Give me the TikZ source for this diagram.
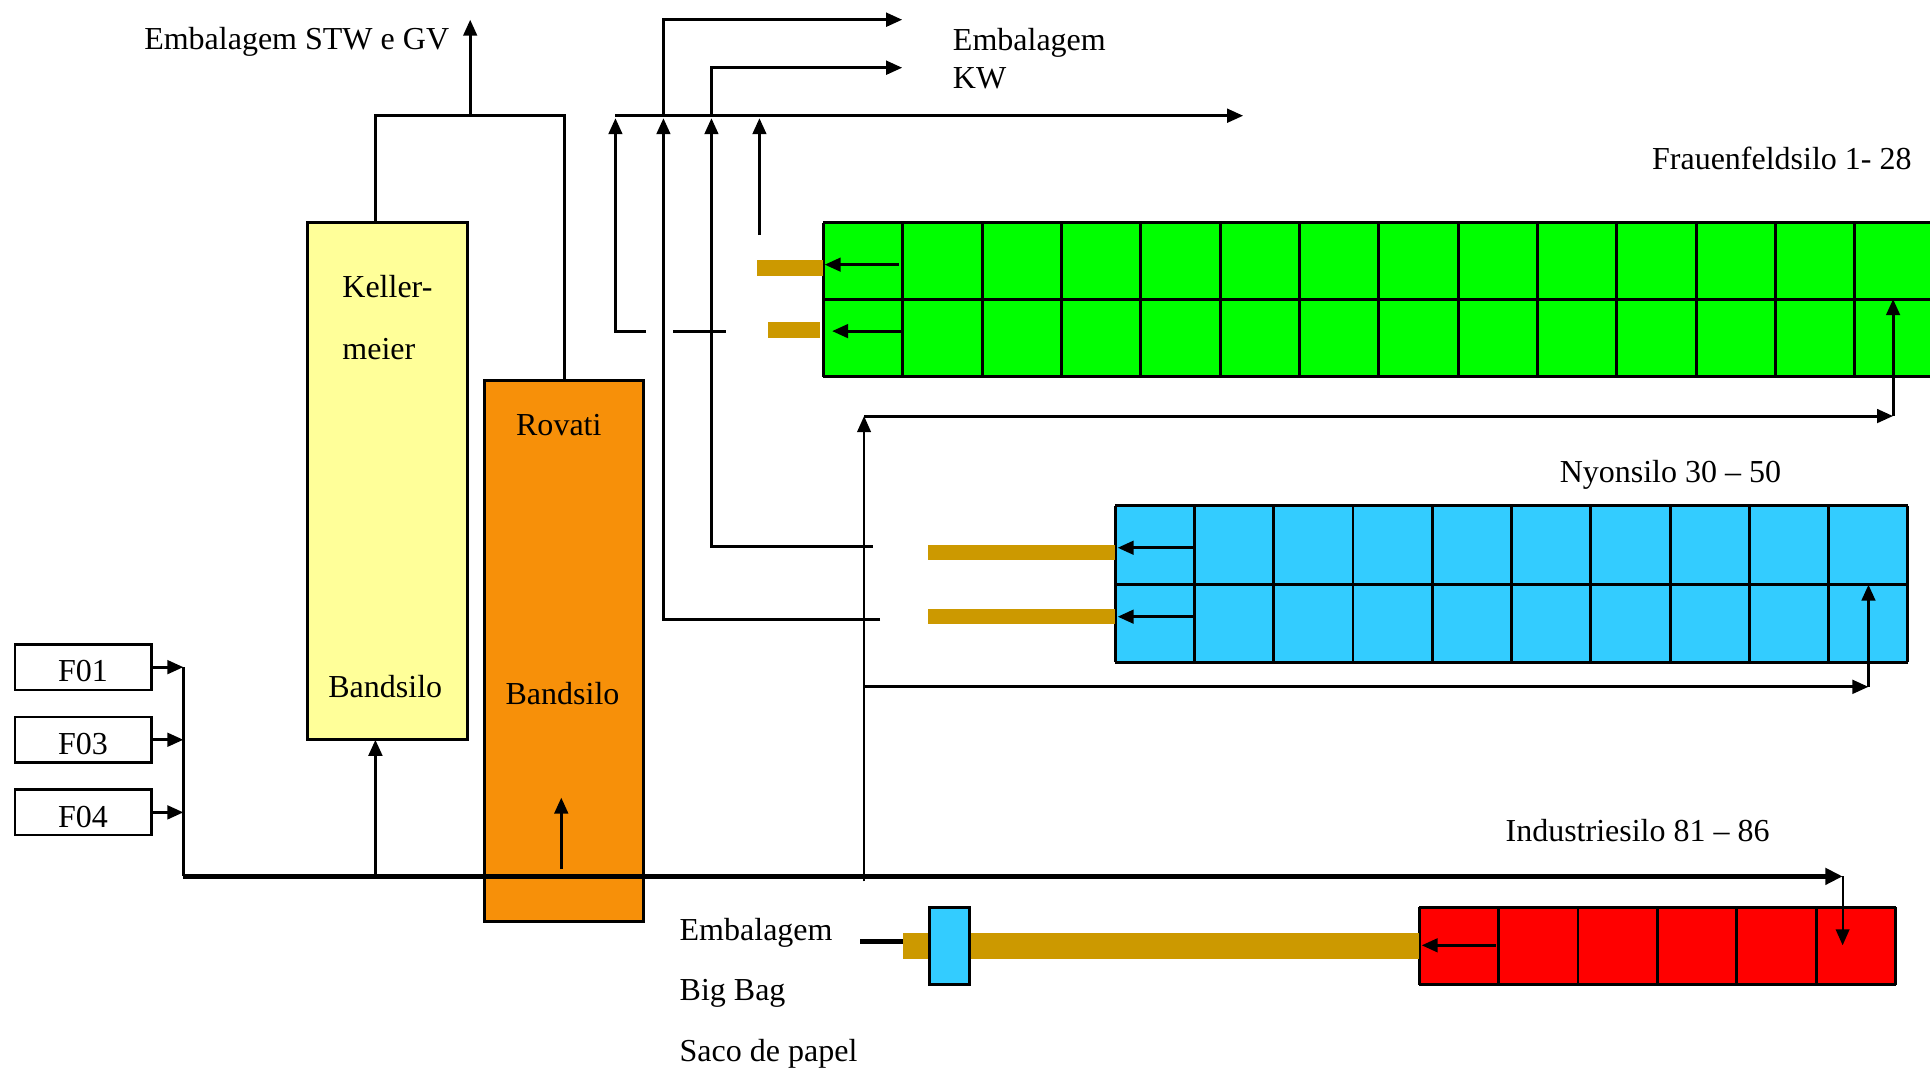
\documentclass[tikz,border=0pt]{standalone}
\usepackage{fontspec}
\setmainfont{Liberation Serif}
\usetikzlibrary{arrows.meta}
\definecolor{goldc}{HTML}{CC9900}
\definecolor{kyellow}{HTML}{FFFF99}
\definecolor{rorange}{HTML}{F79009}
\definecolor{nblue}{HTML}{33CCFF}
\definecolor{fgreen}{HTML}{00FF00}
\definecolor{ired}{HTML}{FF0000}
\begin{document}
\begin{tikzpicture}[x=1pt,y=-1pt,line width=2.4pt,
  >={Triangle[length=13pt,width=11pt]},
  lbl/.style={font=\fontsize{26}{31}\selectfont,inner sep=0pt,anchor=base west},
  clbl/.style={font=\fontsize{26}{31}\selectfont,inner sep=0pt,anchor=base},
  box/.style={draw,line width=2.4pt},
  bar/.style={fill=goldc,draw=none}]
\useasboundingbox (0,0) rectangle (1568,868);

% ---- Kellermeier and Rovati
\draw[box,fill=kyellow] (250,181) rectangle (380,601);
\coordinate (kt) at (305,181);
\coordinate (kb) at (305,601);
\node[lbl] (k1) at (277,242) {Keller-};
\node[lbl] (k2) at (277,292) {meier};
\node[clbl] (k3) at (313,567) {Bandsilo};
\draw[box,fill=rorange] (394,309) rectangle (523,749);
\coordinate (rt) at (459,309);
\node[clbl] (r1) at (454,354) {Rovati};
\node[clbl] (r2) at (457,572) {Bandsilo};
\draw[->] (456,706) -- (456,648);

% ---- top left outlet
\coordinate (stw) at (382,16);
\draw (kt) -- (305,94) -- (459,94) -- (rt);
\draw[->] (382,94) -- (stw);
\node[lbl] (stwl) at (116,40) {Embalagem STW e GV};

% ---- F boxes
\foreach \n/\y in {F01/542,F03/601,F04/660}{
  \node[draw,line width=2pt,minimum width=111pt,minimum height=37pt,inner sep=0pt] (\n) at (67.5,\y) {};
  \node[clbl] at (67.5,\y+12) {\n};
  \draw[->] (123,\y) -- (149,\y);
}
\draw (149,542) -- (149,712);

% ---- main bottom line
\coordinate (mainend) at (1497,712);
\draw[->,line width=4pt,>={Triangle[length=14pt,width=13pt]}] (149,712) -- (mainend);
\draw[->] (305,712) -- (kb);

% ---- green silo
\fill[fgreen] (669,181) rectangle (1575,306);
\foreach \i in {0,...,14}{ \draw (669+64.45*\i,181) -- (669+64.45*\i,306); }
\draw (669,181) -- (1575,181);
\draw (669,243) -- (1575,243);
\draw (669,306) -- (1575,306);
\fill[bar] (615,211) rectangle (669,224);
\fill[bar] (624,262) rectangle (666,275);
\draw[->] (730,215) -- (670,215);
\draw[->] (733,269) -- (676,269);
\node[lbl] (fr) at (1341,138) {Frauenfeldsilo 1- 28};

% ---- top right distribution
\draw[->] (500,94) -- (1010,94);
\draw[->] (525,269) -- (500,269) -- (500,96);
\draw (547,269) -- (590,269);
\draw[->] (715,503) -- (539,503) -- (539,96);
\draw[->] (539,94) -- (539,16) -- (733,16);
\draw[->] (709,444) -- (578,444) -- (578,96);
\draw[->] (578,94) -- (578,55) -- (733,55);
\draw[->] (617,191) -- (617,96);
\node[lbl] (kw1) at (773,41) {Embalagem};
\node[lbl] (kw2) at (773,72) {KW};

% ---- feed to green and blue
\draw[->,line width=1.8pt] (702,716) -- (702,338);
\draw[->] (702,338) -- (1538,338);
\draw[->] (1538,338) -- (1538,243);
\draw[->] (702,558) -- (1518,558);

% ---- blue silo
\fill[nblue] (906,411) rectangle (1550,538);
\foreach \i in {0,...,10}{ \draw (906+64.4*\i,411) -- (906+64.4*\i,538); }
\draw (906,411) -- (1550,411);
\draw (906,475) -- (1550,475);
\draw (906,538) -- (1550,538);
\draw[->] (1518,558) -- (1518,475);
\fill[bar] (754,443) rectangle (906,455);
\fill[bar] (754,495) rectangle (906,507);
\draw[->] (969,445) -- (908,445);
\draw[->] (969,501) -- (908,501);
\node[lbl] (ny) at (1266,392) {Nyonsilo 30 -- 50};

% ---- red silo
\fill[ired] (1153,737) rectangle (1540,800);
\foreach \i in {0,...,6}{ \draw (1153+64.5*\i,737) -- (1153+64.5*\i,800); }
\draw (1153,737) -- (1540,737);
\draw (1153,800) -- (1540,800);
\draw[->,line width=1.8pt] (mainend) -- (1497,768);
\fill[bar] (734,758) rectangle (1153,779);
\draw[->] (1215,768) -- (1155,768);
\draw[box,fill=nblue] (755,737) rectangle (788,800);
\draw[line width=3.5pt] (699,765) -- (734,765);
\node[lbl] (ind) at (1222,684) {Industriesilo 81 -- 86};
\node[lbl] (e1) at (551,764) {Embalagem};
\node[lbl] (e2) at (551,813) {Big Bag};
\node[lbl] (e3) at (551,862) {Saco de papel};
\end{tikzpicture}
\end{document}
